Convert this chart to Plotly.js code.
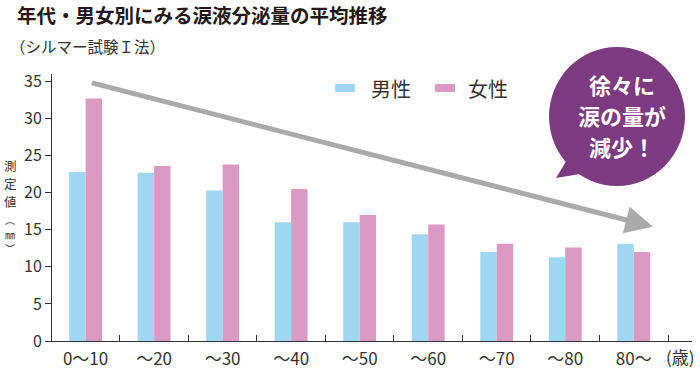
<!DOCTYPE html>
<html>
<head>
<meta charset="utf-8">
<script src="https://cdn.plot.ly/plotly-3.0.1.min.js"></script>
<style>html,body{margin:0;padding:0;background:#fff;}#chart{width:700px;height:369px;}</style>
</head>
<body>
<div id="chart"></div>
<script>
// ---- data ----
const categories = ["0〜10", "〜20", "〜30", "〜40", "〜50", "〜60", "〜70", "〜80", "80〜"];
const maleValues = [22.8, 22.7, 20.3, 16.0, 16.0, 14.4, 12.0, 11.3, 13.1];
const femaleValues = [32.7, 23.6, 23.8, 20.5, 17.0, 15.7, 13.1, 12.6, 12.0];
const seriesNames = ["男性", "女性"];
const yTicks = [0, 5, 10, 15, 20, 25, 30, 35];
const yTitleChars = ["測", "定", "値", "︵", "㎜", "︶"];

const FONT = '"Noto Sans CJK JP", "Noto Sans", sans-serif';
const TXT = '#333333';
const BLUE = '#9fd7f3';
const PINK = '#dc99c3';
const PURPLE = '#7c3a80';

// plot area in pixels (for paper coordinate helpers)
const L = 52, R = 8, T = 74, B = 28, W = 700, H = 369;
const PW = W - L - R, PH = H - T - B;
const px = v => (v - L) / PW;
const py = v => (H - B - v) / PH;

const traces = [
  {type: 'bar', name: seriesNames[0], x: categories, y: maleValues,
   marker: {color: BLUE}, showlegend: false, hoverinfo: 'skip'},
  {type: 'bar', name: seriesNames[1], x: categories, y: femaleValues,
   marker: {color: PINK}, showlegend: false, hoverinfo: 'skip'}
];

// vertical y-axis title, one glyph per annotation
const yTitlePos = [165, 183, 201, 219.5, 234, 248.5];
const yTitleSize = [12.5, 12.5, 12.5, 10, 10, 10];
const yTitleAnns = yTitleChars.map((c, i) => ({
  xref: 'paper', yref: 'paper', x: px(10), y: py(yTitlePos[i]), xanchor: 'center', yanchor: 'middle',
  text: c, showarrow: false, borderpad: 0, font: {family: FONT, size: yTitleSize[i], color: TXT}
}));

const layout = {
  width: W, height: H,
  margin: {l: L, r: R, t: T, b: B, pad: 0},
  paper_bgcolor: '#ffffff', plot_bgcolor: '#ffffff',
  font: {family: FONT, color: TXT},
  barmode: 'group', bargap: 0.52, bargroupgap: 0,
  title: {text: '<b>年代・男女別にみる涙液分泌量の平均推移</b>',
          font: {family: FONT, size: 19.5, color: '#231815'},
          x: 17 / W, xanchor: 'left', xref: 'container',
          y: 1 - 16 / H, yanchor: 'middle', yref: 'container'},
  xaxis: {type: 'category', range: [-0.49, 8.85], tickson: 'boundaries',
          ticks: 'inside', ticklen: 6, tickcolor: TXT, tickwidth: 1,
          showline: true, linecolor: TXT, linewidth: 1, showgrid: false,
          ticklabelstandoff: 3,
          tickfont: {family: FONT, size: 17, color: TXT}, fixedrange: true},
  yaxis: {range: [0, 36], tickvals: yTicks, ticks: 'outside', ticklen: 6,
          tickcolor: TXT, tickwidth: 1, showline: true, linecolor: TXT, linewidth: 1,
          showgrid: false, zeroline: false,
          tickfont: {family: FONT, size: 16, color: TXT}, fixedrange: true},
  shapes: [
    // legend swatches
    {type: 'rect', xref: 'paper', yref: 'paper', x0: px(335), x1: px(355), y0: py(92), y1: py(84),
     fillcolor: BLUE, line: {width: 0}},
    {type: 'rect', xref: 'paper', yref: 'paper', x0: px(435), x1: px(455), y0: py(92), y1: py(84),
     fillcolor: PINK, line: {width: 0}},
    // speech bubble
    {type: 'circle', xref: 'paper', yref: 'paper', x0: px(549), x1: px(685), y0: py(186), y1: py(47),
     fillcolor: PURPLE, line: {width: 0}, layer: 'above'},
    {type: 'path', xref: 'paper', yref: 'paper',
     path: `M ${px(573)} ${py(150)} L ${px(556)} ${py(178)} L ${px(592)} ${py(172)} Z`,
     fillcolor: PURPLE, line: {width: 0}, layer: 'above'}
  ],
  annotations: [
    {xref: 'paper', yref: 'paper', x: px(8), y: py(46), xanchor: 'left', yanchor: 'middle',
     text: '（シルマー試験Ｉ法）', showarrow: false, font: {family: FONT, size: 15.5, color: TXT}},
    {xref: 'paper', yref: 'paper', x: px(369), y: py(88), xanchor: 'left', yanchor: 'middle',
     text: seriesNames[0], showarrow: false, font: {family: FONT, size: 20, color: TXT}},
    {xref: 'paper', yref: 'paper', x: px(466), y: py(88), xanchor: 'left', yanchor: 'middle',
     text: seriesNames[1], showarrow: false, font: {family: FONT, size: 20, color: TXT}},
    ...yTitleAnns,
    // unit on x axis
    {xref: 'paper', yref: 'paper', x: px(680), y: py(356), xanchor: 'center', yanchor: 'middle',
     text: '(歳)', showarrow: false, font: {family: FONT, size: 17, color: TXT}},
    // trend arrow
    {xref: 'x', yref: 'y', axref: 'x', ayref: 'y', x: 8.28, y: 15.4, ax: 0.07, ay: 34.85,
     text: '', showarrow: true, arrowhead: 2, arrowsize: 1.1, arrowwidth: 5, arrowcolor: '#aaaaaa'},
    // bubble text
    {xref: 'paper', yref: 'paper', x: px(622), y: py(84), xanchor: 'center', yanchor: 'middle',
     text: '<b>徐々に</b>', showarrow: false, font: {family: FONT, size: 22, color: '#ffffff'}},
    {xref: 'paper', yref: 'paper', x: px(622), y: py(115), xanchor: 'center', yanchor: 'middle',
     text: '<b>涙の量が</b>', showarrow: false, font: {family: FONT, size: 22, color: '#ffffff'}},
    {xref: 'paper', yref: 'paper', x: px(622), y: py(146), xanchor: 'center', yanchor: 'middle',
     text: '<b>減少！</b>', showarrow: false, font: {family: FONT, size: 22, color: '#ffffff'}}
  ]
};

Plotly.newPlot('chart', traces, layout, {staticPlot: true, displayModeBar: false});
</script>
</body>
</html>
